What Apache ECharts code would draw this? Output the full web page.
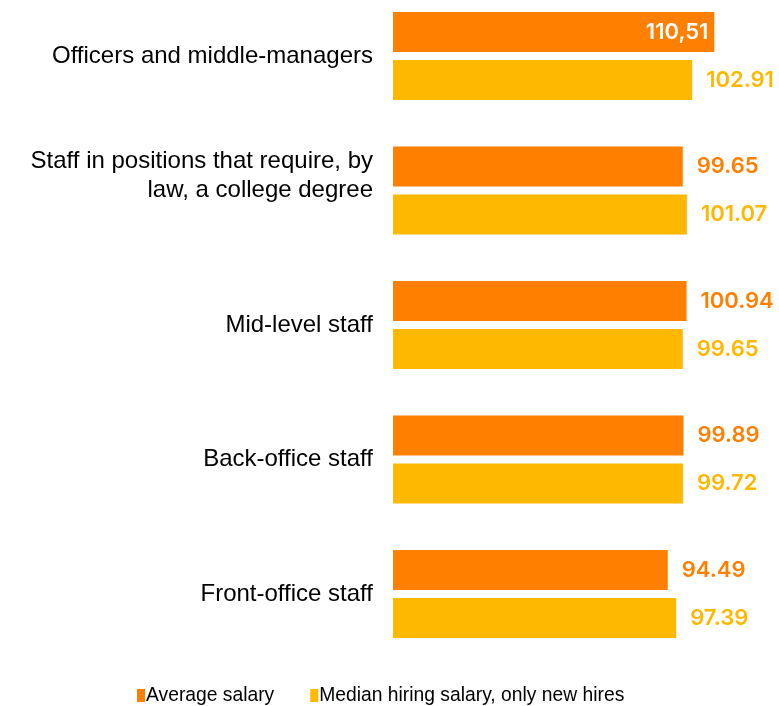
<!DOCTYPE html>
<html>
<head>
<meta charset="utf-8">
<title>Salaries by staff category</title>
<script src="https://cdn.jsdelivr.net/npm/echarts@6/dist/echarts.min.js"></script>
<style>
  html, body { margin: 0; padding: 0; background: #fff; }
  #chart { width: 779px; height: 706px; }
</style>
</head>
<body>
<div id="chart"></div>
<script>
// Staff categories, top to bottom
const categories = [
  'Officers and middle-managers',
  'Staff in positions that require, by\nlaw, a college degree',
  'Mid-level staff',
  'Back-office staff',
  'Front-office staff'
];

// Series names
const seriesNames = ['Average salary', 'Median hiring salary, only new hires'];

// Values
const averageSalary = [110.51, 99.65, 100.94, 99.89, 94.49];
const medianHiringSalary = [102.91, 101.07, 99.65, 99.72, 97.39];

// Value label texts as printed
const averageLabels = ['110,51', '99.65', '100.94', '99.89', '94.49'];
const medianLabels = ['102.91', '101.07', '99.65', '99.72', '97.39'];

const ORANGE = '#FF7F00';
const YELLOW = '#FFB800';
const LABEL_FONT = 'Inter, "Open Sans", sans-serif';
const LABEL_SIZE = 22;
const LABEL_WEIGHT = 600;
const LABEL_GAP = 14;

const chart = echarts.init(document.getElementById('chart'), null, { renderer: 'canvas' });

function makeSeries(name, values, texts, color, inside) {
  return {
    name: name,
    type: 'bar',
    barWidth: 40,
    barGap: '20%',
    clip: false,
    itemStyle: { color: color },
    label: {
      show: true,
      position: 'right',
      distance: LABEL_GAP,
      color: color,
      fontFamily: LABEL_FONT,
      fontSize: LABEL_SIZE,
      fontWeight: LABEL_WEIGHT,
      formatter: p => texts[p.dataIndex]
    },
    data: values.map((v, i) => inside && inside[i]
      ? { value: v, label: { position: 'insideRight', distance: 6, color: '#fff' } }
      : v)
  };
}

const option = {
  animation: false,
  backgroundColor: '#fff',
  // category centres sit on the grid edges (boundaryGap: false)
  grid: { left: 393, right: 8, top: 56, bottom: 112, containLabel: false },
  xAxis: {
    type: 'value',
    min: 0,
    max: 130,
    show: false,
    splitLine: { show: false }
  },
  yAxis: {
    type: 'category',
    inverse: true,
    boundaryGap: false,
    data: categories,
    axisLine: { show: false },
    axisTick: { show: false },
    splitLine: { show: false },
    axisLabel: {
      margin: 20,
      color: '#000',
      fontFamily: '"Liberation Sans", Arial, sans-serif',
      fontSize: 24,
      lineHeight: 29,
      align: 'right',
      // two-line names sit a little above the centre of their pair of bars
      formatter: v => v.indexOf('\n') >= 0 ? v + '\n ' : v
    }
  },
  legend: {
    left: 137,
    top: 686,
    padding: 0,
    itemWidth: 8,
    itemHeight: 13,
    itemGap: 36,
    icon: 'rect',
    textStyle: {
      color: '#000',
      fontFamily: '"Liberation Sans", Arial, sans-serif',
      fontSize: 19.3,
      padding: [0, 0, 0, -4]
    },
    data: seriesNames
  },
  series: [
    makeSeries(seriesNames[0], averageSalary, averageLabels, ORANGE),
    makeSeries(seriesNames[1], medianHiringSalary, medianLabels, YELLOW)
  ]
};

chart.setOption(option);

// Labels that would run past the right edge are placed inside the bar end.
const ctx = document.createElement('canvas').getContext('2d');
ctx.font = LABEL_WEIGHT + ' ' + LABEL_SIZE + 'px ' + LABEL_FONT;
const width = chart.getWidth();
function overflowFlags(values, texts) {
  return values.map((v, i) => {
    const end = chart.convertToPixel({ gridIndex: 0 }, [v, i])[0];
    return end + LABEL_GAP + ctx.measureText(texts[i]).width > width - 1;
  });
}
chart.setOption({
  series: [
    makeSeries(seriesNames[0], averageSalary, averageLabels, ORANGE, overflowFlags(averageSalary, averageLabels)),
    makeSeries(seriesNames[1], medianHiringSalary, medianLabels, YELLOW, overflowFlags(medianHiringSalary, medianLabels))
  ]
});
</script>
</body>
</html>
